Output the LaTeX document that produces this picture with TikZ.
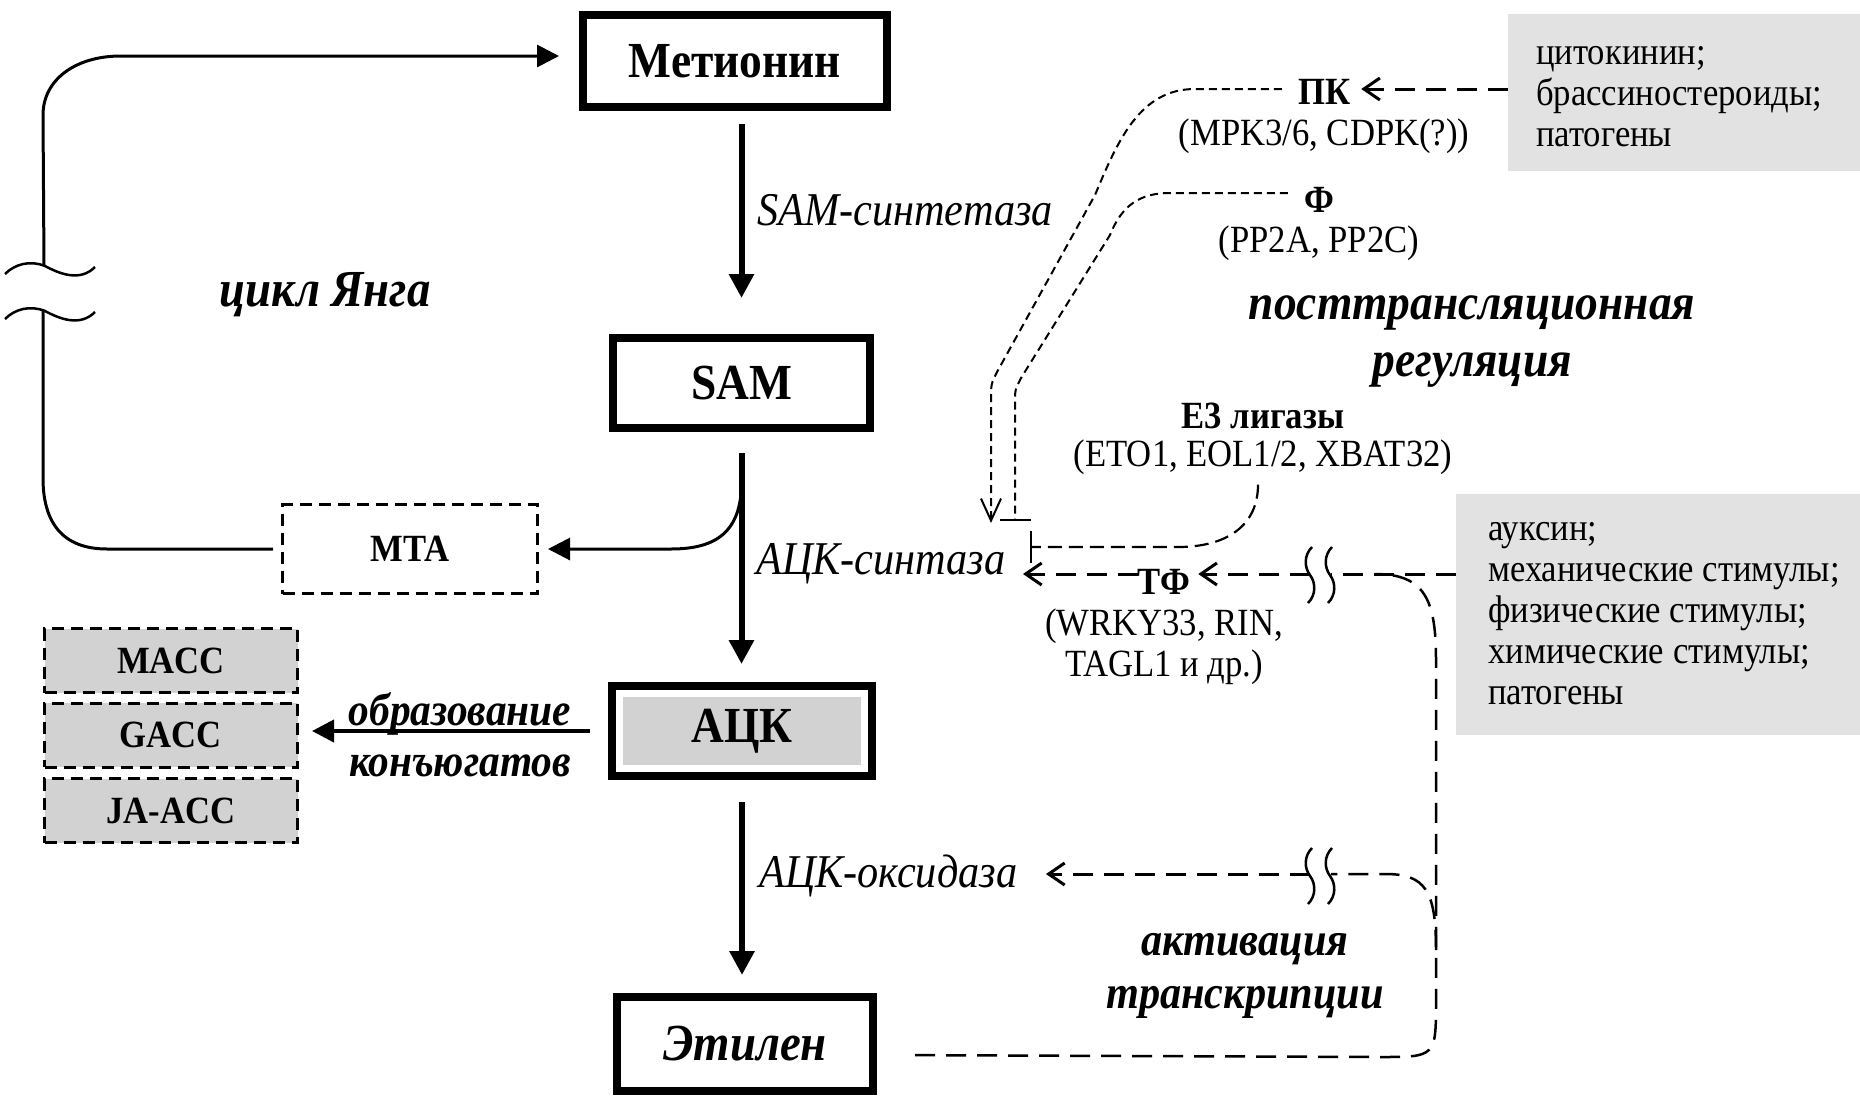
\documentclass[tikz,border=0pt]{standalone}
\usepackage{fontspec}
\setmainfont{Liberation Serif}[FakeStretch=0.9]
\usetikzlibrary{arrows.meta}
\definecolor{boxgray}{HTML}{E2E2E2}
\definecolor{accgray}{HTML}{D2D2D2}
\newcommand\mybody{\fontsize{38.5}{41}\selectfont}
\newcommand\mysbold{\fontsize{38.5}{41}\selectfont\bfseries}
\newcommand\mybig{\fontsize{50.5}{55}\selectfont\bfseries}
\newcommand\mybigit{\fontsize{52}{55}\selectfont\bfseries\itshape}
\newcommand\myital{\fontsize{47}{50}\selectfont\itshape}
\newcommand\myconj{\fontsize{46}{51}\selectfont\bfseries\itshape}
\newcommand\myptr{\fontsize{50.5}{57}\selectfont\bfseries\itshape}
\newcommand\myact{\fontsize{47}{53}\selectfont\bfseries\itshape}
\begin{document}
\begin{tikzpicture}[x=1pt,y=-1pt,
  every node/.style={inner sep=0pt},
  mainbox/.style={draw, line width=8pt, fill=white},
  conjbox/.style={draw, dash pattern=on 12pt off 7pt, line width=3pt, fill=accgray,
    minimum width=253pt, minimum height=64pt, font=\mysbold},
  graybox/.style={fill=boxgray},
  mainarrow/.style={line width=6pt, -{Triangle[length=24pt,width=24pt]}},
  thinarrow/.style={line width=3pt, -{Triangle[length=22pt,width=22pt]}},
  openarr/.style={-{Straight Barb[length=16pt,width=22pt]}},
  varr/.style={-{Straight Barb[length=22pt,width=20pt]}},
  longdash/.style={line width=3pt, dash pattern=on 20pt off 11pt},
  shortdash/.style={line width=2pt, dash pattern=on 8pt off 5pt},
  meddash/.style={line width=2.2pt, dash pattern=on 14pt off 7pt},
  brk/.pic={\draw[line width=2.5pt] (2,-28) .. controls (-6,-20) and (-6,-8) .. (0,0)
      .. controls (6,8) and (6,20) .. (-2,28);}
]
\useasboundingbox (0,0) rectangle (1860,1095);

% stimulus boxes
\node[graybox, minimum width=352pt, minimum height=157pt] (stim1) at (1684,92.5) {};
\node[graybox, minimum width=404pt, minimum height=241pt] (stim2) at (1658,614.5) {};
\node[anchor=west, align=left, font=\mybody] (stim1txt) at (1536,96.5)
  {цитокинин;\\брассиностероиды;\\патогены};
\node[anchor=west, align=left, font=\mybody] (stim2txt) at (1488,613.5)
  {ауксин;\\механические стимулы;\\физические стимулы;\\химические стимулы;\\патогены};

% main chain
\node[mainbox, minimum width=304pt, minimum height=92pt, font=\mybig] (met) at (735,61) {Метионин};
\node[mainbox, minimum width=257pt, minimum height=90pt, font=\mybig] (sam) at (741.5,383) {SAM};
\node[mainbox, minimum width=260pt, minimum height=90pt, font=\mybig,
  path picture={\fill[accgray] ([shift={(11pt,-11pt)}]path picture bounding box.north west)
    rectangle ([shift={(-11pt,11pt)}]path picture bounding box.south east);}] (ack) at (742,731)
  {\raisebox{-5pt}{АЦК}};
\node[mainbox, minimum width=256pt, minimum height=94pt, font=\mybigit] (eth) at (745,1044) {Этилен};

\node[draw, dash pattern=on 12pt off 7pt, line width=3pt, minimum width=255pt, minimum height=89pt,
  font=\mysbold] (mta) at (410,549) {\raisebox{-7pt}{MTA}};
\node[conjbox] (macc) at (171,660.5) {MACC};
\node[conjbox] (gacc) at (171,735) {GACC};
\node[conjbox] (jaacc) at (171,810.5) {JA-ACC};

% labels
\node[font=\myital, anchor=west] (sams) at (757,210) {SAM-синтетаза};
\node[font=\myital, anchor=west] (acs) at (756,564) {АЦК-синтаза};
\node[font=\myital, anchor=west] (aco) at (759,876) {АЦК-оксидаза};
\node[font=\mybigit] (yang) at (325,295) {цикл Янга};
\node[font=\myconj, align=center] (conj) at (460,734.5) {образование\\конъюгатов};
\node[font=\myptr, align=center] (ptr) at (1472,342) {посттрансляционная\\регуляция};
\node[font=\myact, align=center] (act) at (1245,975.5) {активация\\транскрипции};

\node[font=\mysbold] (pk) at (1325,92) {ПК};
\node[font=\mybody] (pkl) at (1324,136) {(MPK3/6, CDPK(?))};
\node[font=\mysbold] (ph) at (1319,200) {Ф};
\node[font=\mybody] (phl) at (1319,243) {(PP2A, PP2C)};
\node[font=\mysbold] (e3) at (1263,416) {E3 лигазы};
\node[font=\mybody] (e3l) at (1263,457) {(ETO1, EOL1/2, XBAT32)};
\node[font=\mysbold] (tf) at (1164,582) {ТФ};
\node[font=\mybody, align=center] (tfl) at (1164,647) {(WRKY33, RIN,\\TAGL1 и др.)};

% free ends
\coordinate (pkend) at (991,523);
\coordinate (phend) at (1015,521);
\coordinate (e3end) at (1030,547);
\coordinate (acstip) at (1023,574);
\coordinate (acotip) at (1046,874);
\coordinate (k1a) at (1310,574);
\coordinate (k1b) at (1331,574);
\coordinate (k2a) at (1310,874);
\coordinate (k2b) at (1331,874);

% main arrows
\draw[mainarrow, shorten <=13pt, shorten >=36pt] (met.south -| sam) -- (sam.north);
\draw[mainarrow, shorten <=21pt, shorten >=18pt] (sam.south) -- (sam.south |- ack.north);
\draw[mainarrow, shorten <=22pt, shorten >=18pt] (ack.south) -- (ack.south |- eth.north);

% MTA branch and Yang cycle
\draw[thinarrow, shorten >=9pt] ([yshift=-50pt]sam.south) .. controls +(0,50) and +(45,0) ..
  ([xshift=132pt]mta.east) -- (mta.east);
\draw[line width=3pt] ([xshift=-8pt]mta.west) -- (107,549) .. controls (62,549) and (43,522) .. (43,478) -- (43,310);
\draw[thinarrow, shorten >=20pt] (44,265) -- (43,115) .. controls (43,80) and (75,56) .. (121,56)
  -- ([yshift=5pt]met.west);
\draw[line width=2.5pt] (5,274) .. controls (15,264) and (30,260) .. (45,266)
  .. controls (60,274) and (80,282) .. (95,267);
\draw[line width=2.5pt] (5,319) .. controls (15,309) and (30,305) .. (45,311)
  .. controls (60,319) and (80,327) .. (95,312);

% conjugates
\draw[thinarrow, line width=4pt, shorten <=18pt, shorten >=13pt] (ack.west) -- (gacc.east |- ack.west);

% post-translational regulation
\draw[longdash, openarr, shorten >=10pt] ([yshift=3pt]stim1.west |- pk) -- ([yshift=3pt]pk.east);
\draw[shortdash, varr, shorten <=17pt] ([yshift=3pt]pk.west) -- (1195,89) .. controls (1140,89) and (1118,140) ..
  (1095,195) -- (997,372) .. controls (991,384) .. (991,400) -- (pkend);
\draw[shortdash, -{Bar[width=31pt]}, shorten <=16pt] ([yshift=7pt]ph.west) -- (1170,193)
  .. controls (1140,193) and (1122,205) .. (1110,235) -- (1021,378) .. controls (1015,390) .. (1015,400) -- (phend);
\draw[meddash, -{Bar[width=32pt]}, shorten <=10pt] ([xshift=-5pt]e3l.south) .. controls +(0,50) and +(50,0) ..
  (1178,547) -- (e3end);

% transcription
\draw[longdash, openarr] ([yshift=8pt]tf.west) -- (acstip);
\draw[longdash] ([yshift=40.5pt]stim2.west) -- (k1b);
\draw[longdash, openarr, shorten >=8pt] (k1a) -- ([yshift=8pt]tf.east);
\draw[longdash, line width=2.5pt, shorten <=38pt] ([yshift=-11pt]eth.east) -- (1380,1057)
  .. controls (1436,1057) .. (1436,1000) -- (1436,660) .. controls (1436,600) and (1425,574) .. (1375,574);
\draw[longdash, line width=2.5pt] (1436,950) .. controls (1436,890) and (1425,874) .. (1385,874) -- (k2b);
\draw[longdash, openarr] (k2a) -- (acotip);
\pic at (1310,575) {brk};
\pic at (1330,575) {brk};
\pic at (1310,876) {brk};
\pic at (1330,876) {brk};
\end{tikzpicture}
\end{document}
